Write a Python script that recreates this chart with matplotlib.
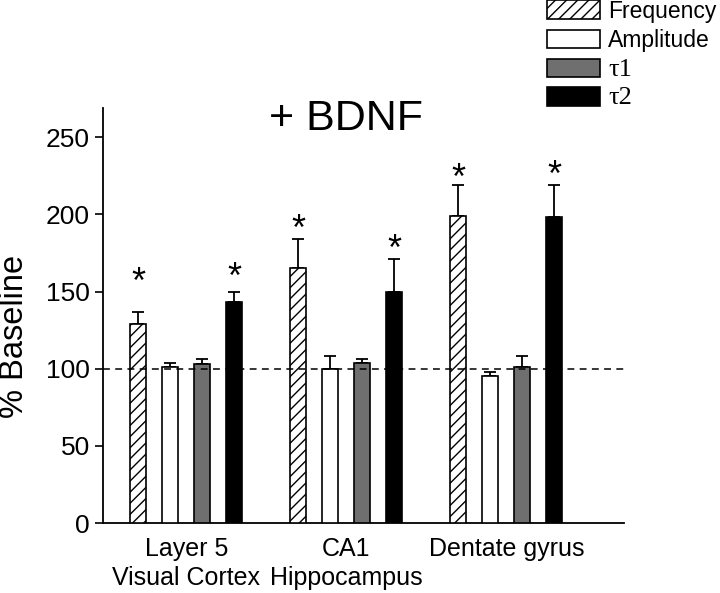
import numpy as np
import matplotlib.pyplot as plt
from matplotlib.patches import Patch

plt.rcParams['font.family'] = ['Liberation Sans', 'DejaVu Sans']
plt.rcParams['hatch.linewidth'] = 1.0

# data (% of baseline)
regions = ["Layer 5\nVisual Cortex", "CA1\nHippocampus", "Dentate gyrus"]
series = ["Frequency", "Amplitude", "τ1", "τ2"]
frequency = [129, 165, 199]
amplitude = [101, 100, 95]
tau1 = [103, 104, 101]
tau2 = [143, 150, 198]
frequency_err = [8, 19, 20]
amplitude_err = [3, 8, 3]
tau1_err = [3, 2, 7]
tau2_err = [7, 21, 21]
# significance stars: height of each star (None = no star)
frequency_star = [161, 195, 228]
tau2_star = [164, 182, 230]

values = [frequency, amplitude, tau1, tau2]
errors = [frequency_err, amplitude_err, tau1_err, tau2_err]
stars = [frequency_star, [None] * 3, [None] * 3, tau2_star]
styles = [
    dict(facecolor="white", hatch="///"),
    dict(facecolor="white"),
    dict(facecolor="#6f6f6f"),
    dict(facecolor="black"),
]

fig = plt.figure(figsize=(7.2, 5.93), dpi=100)
ax = fig.add_axes([0.143, 0.118, 0.724, 0.700])

group_x = np.arange(len(regions)) * 5.0
offsets = [-1.5, -0.5, 0.5, 1.5]

handles = []
for k in range(4):
    xs = group_x + offsets[k]
    ax.bar(xs, values[k], width=0.5, edgecolor="black", linewidth=1.2,
           zorder=3, **styles[k])
    ax.errorbar(xs, values[k], yerr=[np.zeros(3), errors[k]], fmt="none",
                ecolor="black", elinewidth=1.3, capsize=4.5, capthick=1.3,
                zorder=2)
    for i in range(3):
        if stars[k][i] is not None:
            # star glyph centre sits ~11.7 units above its baseline
            ax.text(xs[i], stars[k][i] - 11.7, "*",
                    ha="center", va="baseline", fontsize=26)
    handles.append(Patch(edgecolor="black", linewidth=1.2, label=series[k],
                         **styles[k]))

ax.axhline(100, color="black", linestyle=(0, (4.5, 3.5)), linewidth=1.1,
           zorder=4)

ax.set_xlim(-2.6, 13.68)
ax.set_ylim(0, 269)
ax.set_yticks(np.arange(0, 251, 50))
ax.set_xticks(group_x)
ax.set_xticklabels(regions, fontsize=18, linespacing=1.25)
ax.tick_params(axis="x", length=0, pad=10)
ax.tick_params(axis="y", labelsize=19, length=6, width=1.2, direction="out")
ax.set_ylabel("% Baseline", fontsize=23.5)
ax.yaxis.set_label_coords(-0.140, 0.45)
for side in ["top", "right"]:
    ax.spines[side].set_visible(False)
for side in ["left", "bottom"]:
    ax.spines[side].set_linewidth(1.3)

ax.text(5, 262, "+ BDNF", ha="center", va="center", fontsize=31)

leg = fig.legend(handles=handles, loc="upper right",
                 bbox_to_anchor=(1.008, 1.016), frameon=False, fontsize=16.5,
                 handlelength=2.3, handleheight=0.87, handletextpad=0.35,
                 labelspacing=0.28, borderaxespad=0)
for t in leg.get_texts()[2:]:
    t.set_family(["Liberation Serif", "DejaVu Serif"])
    t.set_fontsize(19)

fig.savefig("out.png", dpi=100)
